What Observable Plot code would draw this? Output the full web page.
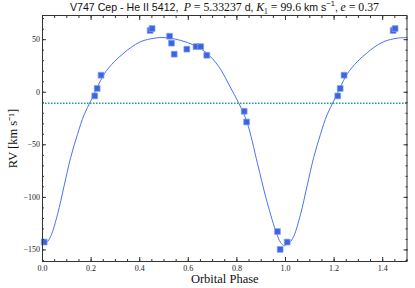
<!DOCTYPE html>
<html><head><meta charset="utf-8">
<script src="https://cdn.jsdelivr.net/npm/d3@7"></script>
<script src="https://cdn.jsdelivr.net/npm/@observablehq/plot@0.6"></script>
<style>
body{margin:0;background:#fff;}
#wrap{position:relative;width:415px;height:288px;}
#title{position:absolute;left:42px;top:0;width:365px;text-align:center;white-space:nowrap;line-height:14px;font-size:10.6px;color:#111;}
#title .sf{font-family:"Liberation Sans",sans-serif;}
#title .m{font-family:"Liberation Serif",serif;font-size:11.8px;}
#title sub,#title sup{font-size:7.5px;line-height:0;}
</style></head><body>
<div id="wrap">
<div id="title"><span class="sf">V747 Cep - He II 5412,</span>&nbsp; <span class="m"><i>P</i> = 5.33237</span><span class="sf"> d,</span> <span class="m"><i>K</i><sub>1</sub> = 99.6</span><span class="sf"> km s<sup>−1</sup>,</span> <span class="m"><i>e</i> = 0.37</span></div>
</div>
<script>
// observed data (phase in [0,1), radial velocity km/s)
const obsPhase = [0.007, 0.215, 0.225, 0.241, 0.443, 0.451, 0.523, 0.531, 0.542, 0.594, 0.632, 0.651, 0.676, 0.830, 0.840, 0.967, 0.978];
const obsRV    = [-142.5, -3.5, 3.6, 16.2, 58.7, 60.6, 53.3, 46.7, 36.2, 41.0, 43.4, 43.4, 35.2, -18.1, -28.3, -132.5, -149.5];

// orbital solution curve
const fitPhase = [0.000, 0.017, 0.034, 0.062, 0.089, 0.116, 0.144, 0.171, 0.199, 0.226, 0.254, 0.295, 0.336, 0.363, 0.405, 0.459, 0.500, 0.542, 0.597, 0.651, 0.693, 0.734, 0.770, 0.807, 0.841, 0.885, 0.919, 0.960, 0.980, 0.995];
const fitRV    = [-145.5, -143, -137, -116, -89, -62, -40, -21.5, -8, 5, 17.5, 29, 37.5, 42.5, 48.2, 51.4, 52, 50.8, 47.2, 41.5, 33.5, 21.5, 6, -10, -28, -68, -100, -132, -143, -146];

const gamma = -10.5;

const xMajor = [0, 0.2, 0.4, 0.6, 0.8, 1.0, 1.2, 1.4];
const yMajor = [-150, -100, -50, 0, 50];
const xMinor = d3.range(0, 1.5001, 0.05);
const yMinor = d3.range(-160, 71, 10);

// phases below 0.5 are shown again one cycle later
const obs = [];
obsPhase.forEach((p, i) => {
  obs.push({phase: p, rv: obsRV[i]});
  if (p < 0.5) obs.push({phase: p + 1, rv: obsRV[i]});
});
const fit = fitPhase.map((p, i) => ({phase: p, rv: fitRV[i]}));
fitPhase.forEach((p, i) => { if (p <= 0.5) fit.push({phase: p + 1, rv: fitRV[i]}); });
fit.sort((a, b) => a.phase - b.phase);

const tickColor = "#333";
const chart = Plot.plot({
  width: 415, height: 288,
  marginTop: 15, marginLeft: 42, marginRight: 8.5, marginBottom: 27,
  x: {domain: [0, 1.5], label: null},
  y: {domain: [-161, 73], label: null},
  style: {fontFamily: "'Liberation Serif', serif", fontSize: "8px", color: "#222", background: "white"},
  marks: [
    Plot.ruleY([gamma], {stroke: "#1d9f90", strokeWidth: 1.5, strokeDasharray: "1.5,1.5"}),
    Plot.line(fit, {x: "phase", y: "rv", stroke: "#4a74ea", strokeWidth: 1, curve: "catmull-rom"}),
    Plot.dot(obs, {x: "phase", y: "rv", symbol: "square", r: 3.3, fill: "#3a64e0", stroke: "#86a2f4", strokeWidth: 0.7}),
    Plot.axisX(xMinor, {anchor: "bottom", tickSize: -2, tickFormat: () => "", stroke: tickColor, label: null}),
    Plot.axisX(xMinor, {anchor: "top", tickSize: -2, tickFormat: () => "", stroke: tickColor, label: null}),
    Plot.axisX(xMajor, {anchor: "bottom", tickSize: -4, tickFormat: () => "", stroke: tickColor, label: null}),
    Plot.axisX(xMajor, {anchor: "top", tickSize: -4, tickFormat: () => "", stroke: tickColor, label: null}),
    Plot.axisX(xMajor, {anchor: "bottom", tickSize: 0, tickPadding: 3.5, tickFormat: d3.format(".1f"), label: null}),
    Plot.axisY(yMinor, {anchor: "left", tickSize: -2, tickFormat: () => "", stroke: tickColor, label: null}),
    Plot.axisY(yMinor, {anchor: "right", tickSize: -2, tickFormat: () => "", stroke: tickColor, label: null}),
    Plot.axisY(yMajor, {anchor: "left", tickSize: -4, tickFormat: () => "", stroke: tickColor, label: null}),
    Plot.axisY(yMajor, {anchor: "right", tickSize: -4, tickFormat: () => "", stroke: tickColor, label: null}),
    Plot.axisY(yMajor, {anchor: "left", tickSize: 0, tickPadding: 2.5, tickFormat: d3.format("d"), label: null}),
    Plot.frame({stroke: "#333"}),
    Plot.text(["Orbital Phase"], {frameAnchor: "bottom", lineAnchor: "middle", textAnchor: "middle", dy: 17.5, fontSize: 12.5, fill: "#111"}),
    Plot.text(["RV [km s⁻¹]"], {frameAnchor: "left", lineAnchor: "middle", textAnchor: "middle", rotate: -90, dx: -30, fontSize: 12.5, fill: "#111"})
  ]
});
document.getElementById("wrap").prepend(chart);
chart.style.position = "absolute";
chart.style.left = "0";
chart.style.top = "0";
</script>
</body></html>
